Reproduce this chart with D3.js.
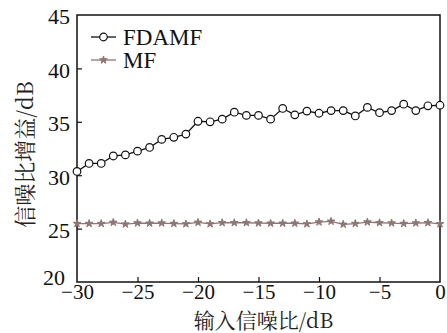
<!DOCTYPE html>
<meta charset="utf-8">
<style>
    body { margin: 0; background: #fff; }
    svg { display: block; }
    .axis path, .axis line { stroke: #111; stroke-width: 1.2; }
</style>
<body>
<script src="https://cdn.jsdelivr.net/npm/d3@7/dist/d3.min.js"></script>
<script>
    // x positions (input SNR, dB)
    const snr = d3.range(-30, 1, 1);
    const xTicks = [-30, -25, -20, -15, -10, -5, 0];
    const yTicks = [20, 25, 30, 35, 40, 45];

    const fdamf = [30.35, 31.1, 31.1, 31.8, 31.9, 32.25, 32.6, 33.35, 33.55, 33.85,
                   35.05, 35.0, 35.25, 35.9, 35.6, 35.6, 35.25, 36.25, 35.65, 36.0,
                   35.8, 36.05, 36.05, 35.55, 36.35, 35.85, 36.05, 36.65, 36.05, 36.5, 36.55];
    const mf = [25.47, 25.47, 25.47, 25.58, 25.42, 25.52, 25.5, 25.52, 25.47, 25.44,
                25.58, 25.44, 25.55, 25.55, 25.55, 25.52, 25.5, 25.5, 25.5, 25.44,
                25.61, 25.68, 25.4, 25.47, 25.61, 25.55, 25.52, 25.47, 25.52, 25.55, 25.44];

    const W = 447, H = 333;
    const margin = {top: 15, right: 7, bottom: 51, left: 77};
    const serif = '"Liberation Serif", "DejaVu Serif", serif';
    const cjk = '"Noto Serif CJK SC", "Noto Sans CJK SC", serif';

    const svg = d3.select('body').append('svg')
        .attr('width', W)
        .attr('height', H);

    const x = d3.scaleLinear().domain([-30, 0]).range([margin.left, W - margin.right]);
    const y = d3.scaleLinear().domain([20, 45]).range([H - margin.bottom, margin.top]);

    // frame
    svg.append('rect')
        .attr('x', x(-30)).attr('y', y(45))
        .attr('width', x(0) - x(-30)).attr('height', y(20) - y(45))
        .attr('fill', 'none').attr('stroke', '#111').attr('stroke-width', 1.5);

    // x axis, ticks inward
    const gx = svg.append('g')
        .attr('class', 'axis')
        .attr('transform', 'translate(0,' + y(20) + ')')
        .call(d3.axisBottom(x).tickValues(xTicks).tickSize(-5).tickPadding(2).tickFormat(d3.format('d')));
    gx.select('.domain').remove();
    gx.selectAll('.tick').filter(d => d === -30 || d === 0).select('line').remove();
    gx.selectAll('.tick text')
        .attr('dy', '0.71em')
        .style('font-family', serif).style('font-size', '21px').style('fill', '#111');

    // y axis
    const gy = svg.append('g')
        .attr('class', 'axis')
        .attr('transform', 'translate(' + x(-30) + ',0)')
        .call(d3.axisLeft(y).tickValues(yTicks).tickSize(-5).tickPadding(7));
    gy.select('.domain').remove();
    gy.selectAll('.tick').filter(d => d === 20 || d === 45).select('line').remove();
    gy.selectAll('.tick text')
        .attr('dy', '0.4em')
        .style('font-family', serif).style('font-size', '22px').style('fill', '#111');
    gy.selectAll('.tick').filter(d => d === 20).select('text').attr('dy', '0.1em').attr('x', -12);

    // axis titles
    svg.append('text')
        .attr('x', (x(-30) + x(0)) / 2 + 5)
        .attr('y', H - 5)
        .attr('text-anchor', 'middle')
        .style('font-family', cjk)
        .style('font-size', '21px')
        .style('fill', '#222')
        .text('输入信噪比/dB');

    svg.append('text')
        .attr('transform', 'translate(33,' + ((y(20) + y(45)) / 2 + 6) + ') rotate(-90)')
        .attr('text-anchor', 'middle')
        .style('font-family', cjk)
        .style('font-size', '22px')
        .style('fill', '#222')
        .text('信噪比增益/dB');

    const line = d3.line().x((d, i) => x(snr[i])).y(d => y(d));
    const mfColor = '#8e7672';

    // MF series
    svg.append('path')
        .datum(mf)
        .attr('d', line)
        .attr('fill', 'none')
        .attr('stroke', mfColor)
        .attr('stroke-width', 1.3);

    const star = d3.symbol().type(d3.symbolStar).size(18);
    svg.append('g').selectAll('path')
        .data(mf)
        .enter().append('path')
        .attr('transform', (d, i) => 'translate(' + x(snr[i]) + ',' + y(d) + ')')
        .attr('d', star)
        .attr('fill', mfColor)
        .attr('stroke', mfColor)
        .attr('stroke-width', 1);

    // FDAMF series
    svg.append('path')
        .datum(fdamf)
        .attr('d', line)
        .attr('fill', 'none')
        .attr('stroke', '#111')
        .attr('stroke-width', 1.3);

    svg.append('g').selectAll('circle')
        .data(fdamf)
        .enter().append('circle')
        .attr('cx', (d, i) => x(snr[i]))
        .attr('cy', d => y(d))
        .attr('r', 3.8)
        .attr('fill', '#fff')
        .attr('stroke', '#111')
        .attr('stroke-width', 1.2);

    // legend
    const legend = svg.append('g').attr('transform', 'translate(91,37)');
    legend.append('line').attr('x1', 0).attr('x2', 25).attr('stroke', '#111').attr('stroke-width', 1.3);
    legend.append('circle').attr('cx', 12.5).attr('r', 3.8).attr('fill', '#fff').attr('stroke', '#111').attr('stroke-width', 1.2);
    legend.append('text').attr('x', 32).attr('y', 8)
        .style('font-family', serif).style('font-size', '23px').style('fill', '#111')
        .text('FDAMF');

    const legend2 = svg.append('g').attr('transform', 'translate(91,60)');
    legend2.append('line').attr('x1', 0).attr('x2', 25).attr('stroke', mfColor).attr('stroke-width', 1.3);
    legend2.append('path').attr('transform', 'translate(12.5,0)').attr('d', star)
        .attr('fill', mfColor).attr('stroke', mfColor).attr('stroke-width', 1);
    legend2.append('text').attr('x', 32).attr('y', 8)
        .style('font-family', serif).style('font-size', '23px').style('fill', '#111')
        .text('MF');
</script>
</body>
</html>
